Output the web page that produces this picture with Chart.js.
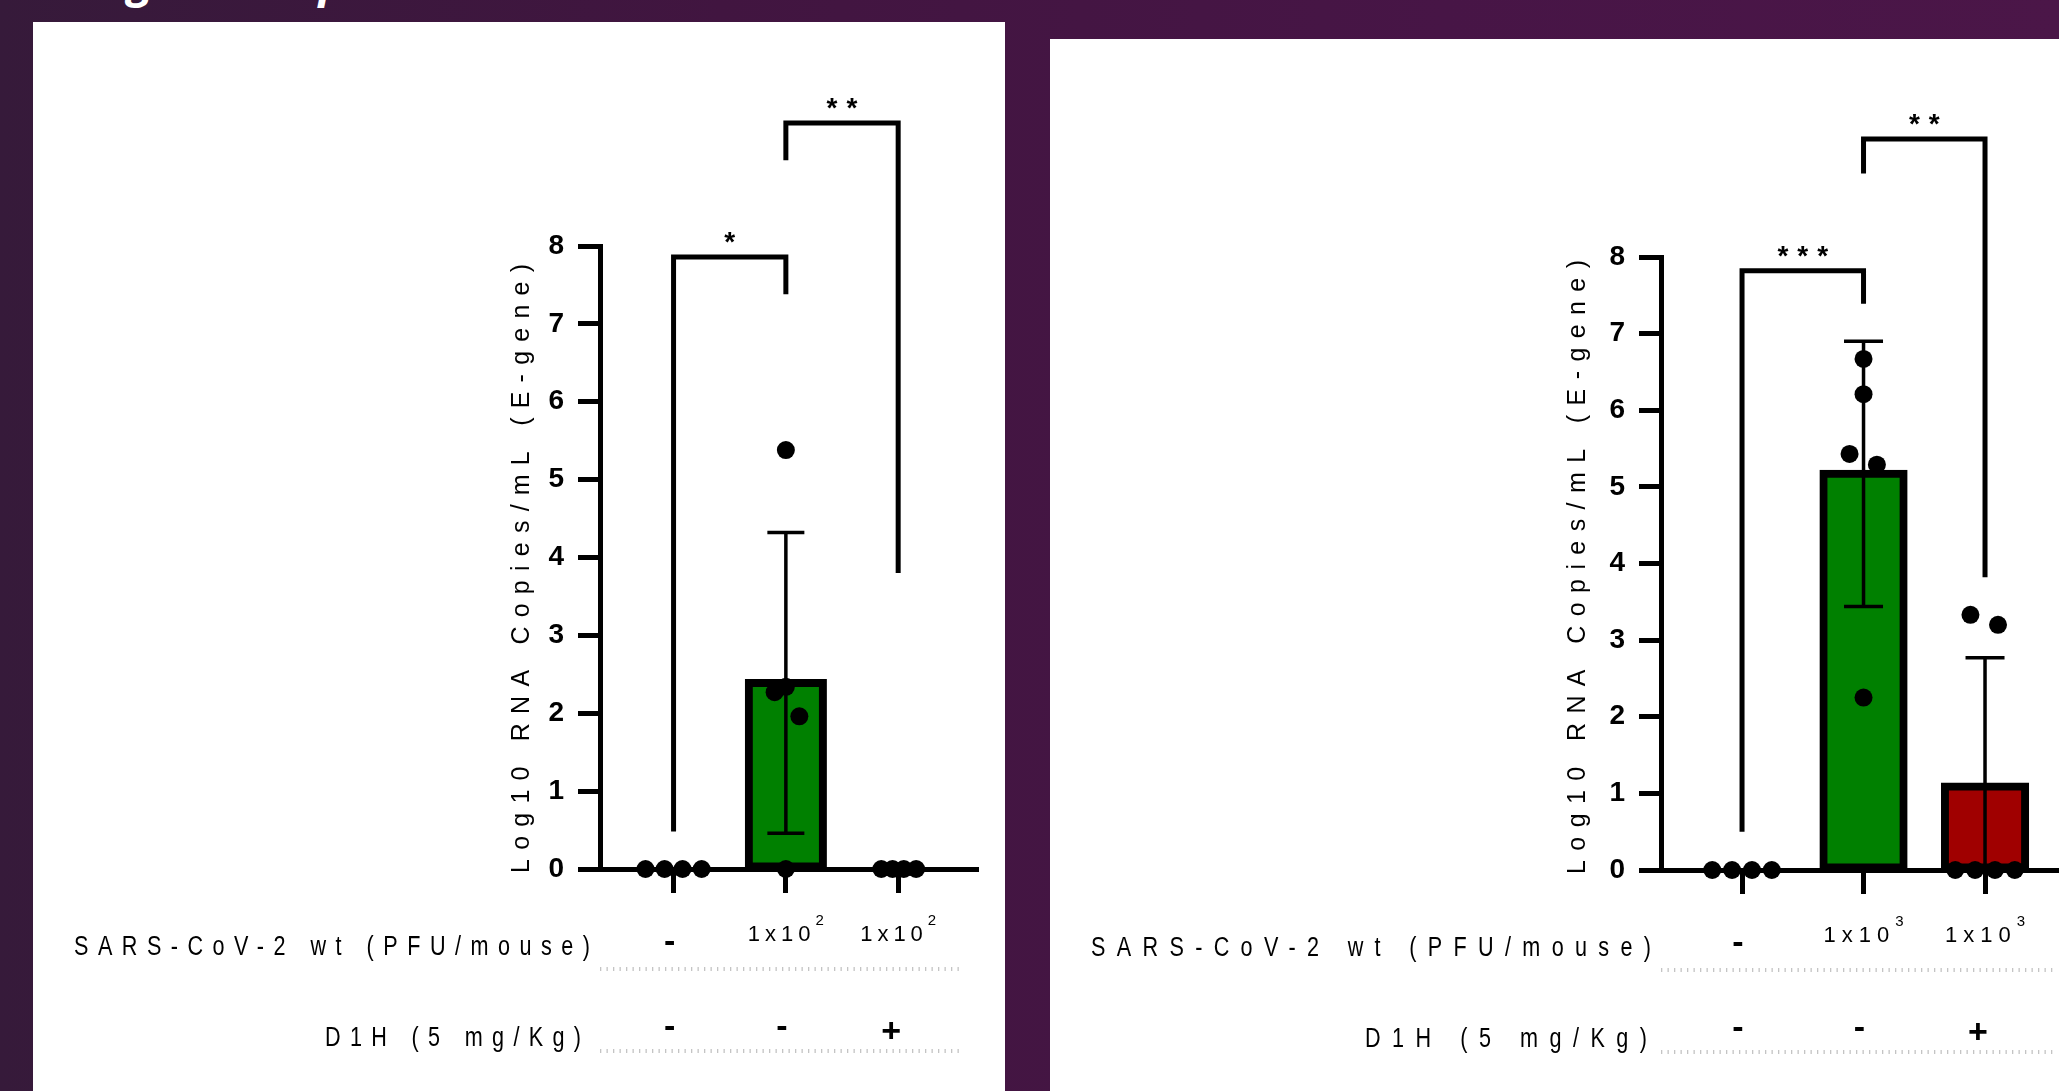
<!DOCTYPE html>
<html>
<head>
<meta charset="utf-8">
<script src="https://cdn.jsdelivr.net/npm/chart.js@4.4.1/dist/chart.umd.min.js"></script>
<style>
  html, body { margin: 0; padding: 0; }
  body {
    width: 2059px; height: 1091px; overflow: hidden; position: relative;
    background: linear-gradient(90deg, #361a3a 0%, #411540 35%, #471546 70%, #4b1648 100%);
  }
  .title {
    position: absolute; left: 48px; top: -44px; color: #fff; white-space: nowrap;
    font: italic bold 46px "Open Sans", sans-serif; line-height: 46px;
  }
  .panel { position: absolute; background: #fff; overflow: hidden; }
  #panelA { left: 33px; top: 22px; width: 972px; height: 1069px; }
  #panelB { left: 1050px; top: 39px; width: 1009px; height: 1052px; }
  canvas { position: absolute; left: 0; top: 0; }
</style>
</head>
<body>
<div class="title">Lung viral replication</div>
<div class="panel" id="panelA"><canvas id="chartA" width="972" height="1069"></canvas></div>
<div class="panel" id="panelB"><canvas id="chartB" width="1040" height="1052"></canvas></div>
<script>
// groups sit at x = 0, 1, 2
const groups = ['Mock', 'SARS-CoV-2', 'SARS-CoV-2 + D1H'];
const barColors = ['#008000', '#008000', '#a00000'];
const d1hRow = ['-', '-', '+'];
const yTitle = 'Log10 RNA Copies/mL (E-gene)';
const rowLabel1 = 'SARS-CoV-2 wt (PFU/mouse)';
const rowLabel2 = 'D1H (5 mg/Kg)';

// left panel, 1x10^2 PFU
const doseA = ['-', '1x10', '1x10'];
const doseExpA = ['', '2', '2'];
const meanA = [0, 2.39, 0];
const sdA = [0, 1.93, 0];
const pointsA = [[0, 0, 0, 0], [5.38, 2.34, 2.27, 1.96, 0], [0, 0, 0, 0]];
const jitterA = [[-0.25, -0.08, 0.08, 0.25], [0, 0, -0.1, 0.12, 0], [-0.15, -0.05, 0.05, 0.16]];
const bracketFromA = [0, 1];
const bracketToA = [1, 2];
const bracketTopA = [7.86, 9.58];
const bracketLeftEndA = [0.48, 9.1];
const bracketRightEndA = [7.38, 3.8];
const starsA = ['*', '**'];

// right panel, 1x10^3 PFU
const doseB = ['-', '1x10', '1x10'];
const doseExpB = ['', '3', '3'];
const meanB = [0, 5.17, 1.09];
const sdB = [0, 1.73, 1.68];
const pointsB = [[0, 0, 0, 0], [6.67, 6.21, 5.43, 5.29, 2.25], [3.33, 3.2, 0, 0, 0, 0]];
const jitterB = [[-0.245, -0.082, 0.082, 0.245], [0, 0, -0.115, 0.11, 0], [-0.12, 0.107, -0.245, -0.082, 0.082, 0.245]];
const bracketFromB = [0, 1];
const bracketToB = [1, 2];
const bracketTopB = [7.82, 9.54];
const bracketLeftEndB = [0.5, 9.09];
const bracketRightEndB = [7.39, 3.82];
const starsB = ['***', '**'];

const SANS = '"Liberation Sans", Arial, sans-serif';

// draw text with letter spacing, ignoring the trailing gap when aligning
function spaced(ctx, text, x, y, gap, align) {
  ctx.letterSpacing = gap + 'px';
  const w = ctx.measureText(text).width - gap;
  const sx = align === 'right' ? x - w : align === 'center' ? x - w / 2 : x;
  ctx.textAlign = 'left';
  ctx.fillText(text, sx, y);
  ctx.letterSpacing = '0px';
  return w;
}

function fitGap(ctx, text, width) {
  ctx.letterSpacing = '0px';
  return (width - ctx.measureText(text).width) / (text.length - 1);
}

// condensed label: squeeze glyphs horizontally, right-aligned at x
function narrowLabel(ctx, text, x, y, width) {
  const sq = 0.8;
  ctx.save();
  ctx.translate(x, y);
  ctx.scale(sq, 1);
  ctx.font = '27px ' + SANS;
  spaced(ctx, text, 0, 0, fitGap(ctx, text, width / sq), 'right');
  ctx.restore();
}

function buildChart(id, d, look) {
  const barData = d.mean.map((m, i) => ({ x: i, y: m }));
  const dots = [];
  d.points.forEach((vals, i) => vals.forEach((v, j) => dots.push({ x: i + d.jitter[i][j], y: v })));

  const extras = {
    id: 'extras',
    afterDatasetDraw(chart, args) {
      if (args.index !== 0) return;
      const { ctx, scales: { x, y } } = chart;
      ctx.save();
      ctx.strokeStyle = '#000';
      ctx.lineWidth = 3.5;
      d.sd.forEach((s, i) => {
        if (!s) return;
        const px = x.getPixelForValue(i);
        const low = d.mean[i] - s;
        const top = y.getPixelForValue(d.mean[i] + s);
        const bot = y.getPixelForValue(Math.max(low, 0));
        ctx.beginPath();
        ctx.moveTo(px, bot);
        ctx.lineTo(px, top);
        ctx.moveTo(px - look.cap / 2, top);
        ctx.lineTo(px + look.cap / 2, top);
        if (low > 0) {
          ctx.moveTo(px - look.cap / 2, bot);
          ctx.lineTo(px + look.cap / 2, bot);
        }
        ctx.stroke();
      });
      ctx.restore();
    },
    afterDraw(chart) {
      const { ctx, chartArea: area, scales: { x, y } } = chart;
      const y0 = y.getPixelForValue(0);
      ctx.save();
      ctx.fillStyle = '#000';

      // significance brackets
      ctx.strokeStyle = '#000';
      ctx.lineWidth = 5;
      ctx.lineJoin = 'miter';
      d.bFrom.forEach((f, k) => {
        const x1 = x.getPixelForValue(f);
        const x2 = x.getPixelForValue(d.bTo[k]);
        const yt = y.getPixelForValue(d.bTop[k]);
        ctx.beginPath();
        ctx.moveTo(x1, y.getPixelForValue(d.bLeftEnd[k]));
        ctx.lineTo(x1, yt);
        ctx.lineTo(x2, yt);
        ctx.lineTo(x2, y.getPixelForValue(d.bRightEnd[k]));
        ctx.stroke();
        ctx.font = 'bold 28px ' + SANS;
        ctx.textBaseline = 'alphabetic';
        spaced(ctx, d.stars[k], (x1 + x2) / 2, yt - 6, 9, 'center');
      });

      // rotated y title
      ctx.save();
      ctx.font = '25px ' + SANS;
      const tGap = fitGap(ctx, yTitle, look.titleLen);
      ctx.translate(area.left + look.titleDx, y0 + 4);
      ctx.rotate(-Math.PI / 2);
      ctx.textBaseline = 'middle';
      spaced(ctx, yTitle, 0, 0, tGap, 'left');
      ctx.restore();

      // condition table under the axis
      ctx.textBaseline = 'middle';
      narrowLabel(ctx, rowLabel1, area.left - 10, y0 + 79, look.row1W);
      narrowLabel(ctx, rowLabel2, area.left + look.row2Dx, y0 + 170, look.row2W);

      ctx.save();
      ctx.strokeStyle = '#c4c4c4';
      ctx.lineWidth = 4;
      ctx.setLineDash([1.3, 5.2]);
      [100, 182].forEach(dy => {
        ctx.beginPath();
        ctx.moveTo(area.left, y0 + dy);
        ctx.lineTo(area.right - 14, y0 + dy);
        ctx.stroke();
      });
      ctx.restore();

      d.dose.forEach((t, i) => {
        const px = x.getPixelForValue(i);
        if (t === '-') {
          ctx.font = 'bold 34px ' + SANS;
          spaced(ctx, '-', px - 4, y0 + 74, 0, 'center');
          return;
        }
        ctx.font = '22px ' + SANS;
        ctx.letterSpacing = look.doseGap + 'px';
        const mw = ctx.measureText(t).width;
        ctx.letterSpacing = '0px';
        ctx.font = '15px ' + SANS;
        const ew = ctx.measureText(d.doseExp[i]).width;
        const sx = px - (mw + ew) / 2;
        ctx.font = '22px ' + SANS;
        spaced(ctx, t, sx, y0 + 66, look.doseGap, 'left');
        ctx.font = '15px ' + SANS;
        spaced(ctx, d.doseExp[i], sx + mw, y0 + 52, 0, 'left');
      });
      d1hRow.forEach((t, i) => {
        const px = x.getPixelForValue(i);
        ctx.font = 'bold 34px ' + SANS;
        if (t === '+') spaced(ctx, '+', px - 7, y0 + 164, 0, 'center');
        else spaced(ctx, '-', px - 4, y0 + 159, 0, 'center');
      });
      ctx.restore();
    }
  };

  return new Chart(document.getElementById(id), {
    type: 'bar',
    data: {
      datasets: [
        {
          // inflateAmount shifts the 8px border outward so it straddles the bar edge
          type: 'bar', data: barData, backgroundColor: barColors, borderColor: '#000',
          borderWidth: 8, borderSkipped: false, inflateAmount: 4,
          barPercentage: 0.66, categoryPercentage: 1, order: 1, clip: false
        },
        {
          type: 'scatter', data: dots, pointRadius: 9, pointBackgroundColor: '#000',
          pointBorderWidth: 0, order: 0, clip: false
        }
      ]
    },
    options: {
      responsive: false,
      animation: false,
      events: [],
      layout: { padding: look.pad },
      plugins: { legend: { display: false }, tooltip: { enabled: false } },
      scales: {
        x: {
          type: 'linear', min: look.xMin, max: look.xMax, offset: false,
          afterBuildTicks: s => { s.ticks = groups.map((g, i) => ({ value: i })); },
          afterFit: s => { s.height = 30; },
          ticks: { display: false },
          grid: { offset: false, drawOnChartArea: false, drawTicks: true, tickLength: 24, lineWidth: 5, color: '#000' },
          border: { display: true, width: 5, color: '#000' }
        },
        y: {
          min: 0, max: 8,
          afterFit: s => { s.width = 100; },
          ticks: {
            stepSize: 1, color: '#000', padding: 14,
            font: { family: SANS, size: 28, weight: 'bold' }
          },
          grid: { drawOnChartArea: false, tickLength: 22, lineWidth: 5, color: '#000' },
          border: { width: 5, color: '#000' }
        }
      }
    },
    plugins: [extras]
  });
}

buildChart('chartA', {
  mean: meanA, sd: sdA, points: pointsA, jitter: jitterA,
  bFrom: bracketFromA, bTo: bracketToA, bTop: bracketTopA,
  bLeftEnd: bracketLeftEndA, bRightEnd: bracketRightEndA, stars: starsA,
  dose: doseA, doseExp: doseExpA
}, {
  pad: { left: 467, top: 224, right: 29, bottom: 192 },
  xMin: -0.655, xMax: 2.693, cap: 37,
  titleDx: -78, titleLen: 609, row1W: 516, row2W: 256, row2Dx: -19, doseGap: 5
});

buildChart('chartB', {
  mean: meanB, sd: sdB, points: pointsB, jitter: jitterB,
  bFrom: bracketFromB, bTo: bracketToB, bTop: bracketTopB,
  bLeftEnd: bracketLeftEndB, bRightEnd: bracketRightEndB, stars: starsB,
  dose: doseB, doseExp: doseExpB
}, {
  pad: { left: 511, top: 218, right: 22, bottom: 191 },
  xMin: -0.667, xMax: 2.683, cap: 39,
  titleDx: -83, titleLen: 614, row1W: 560, row2W: 282, row2Dx: -14, doseGap: 6
});
</script>
</body>
</html>
